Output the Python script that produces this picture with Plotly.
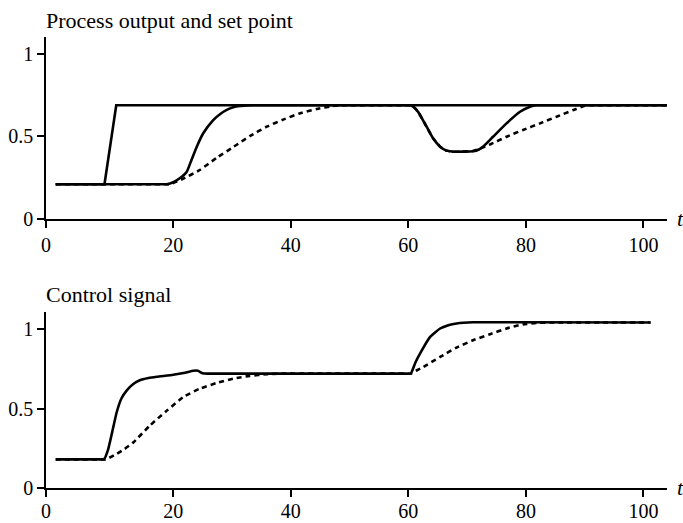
import plotly.graph_objects as go
from plotly.subplots import make_subplots

# ---------------- data ----------------
# top panel: process output and set point
sp_t = [0, 8.3, 10.3, 104]
sp_y = [0.21, 0.21, 0.687, 0.687]

out_fast_t = [0, 18.0, 18.9, 20.0, 21.1, 22.3, 23.1, 24.0, 25.1, 26.8, 28.0, 29.1, 30.2, 31.3,
              32.5, 33.5, 34.5, 59.3, 60.3, 61.0, 61.7, 63.1, 64.2, 65.4, 66.5, 67.6, 69.0,
              71.0, 72.0, 72.7, 74.4, 76.7, 79.0, 80.7, 81.8, 82.8, 104]
out_fast_y = [0.21, 0.21, 0.21, 0.222, 0.246, 0.286, 0.357, 0.437, 0.518, 0.598, 0.635, 0.659,
              0.675, 0.683, 0.686, 0.687, 0.687, 0.687, 0.687, 0.674, 0.645, 0.558, 0.488,
              0.437, 0.413, 0.407, 0.407, 0.409, 0.42, 0.437, 0.497, 0.578, 0.648, 0.679,
              0.687, 0.687, 0.687]

out_slow_t = [0, 18.5, 19.4, 21.5, 24.5, 27.4, 30.3, 33.1, 35.9, 38.8, 41.6, 44.4, 47.2, 48.5,
              49.5, 59.3, 60.3, 61.0, 61.7, 63.1, 64.2, 65.4, 66.5, 67.6, 69.0, 71.0, 72.5,
              74.0, 76.7, 79.5, 82.4, 85.2, 88.1, 90.0, 91.0, 104]
out_slow_y = [0.21, 0.21, 0.21, 0.24, 0.296, 0.37, 0.437, 0.502, 0.558, 0.602, 0.639, 0.665,
              0.683, 0.687, 0.687, 0.687, 0.687, 0.674, 0.645, 0.558, 0.488, 0.437, 0.413,
              0.407, 0.407, 0.411, 0.43, 0.452, 0.497, 0.538, 0.578, 0.618, 0.659, 0.685,
              0.687, 0.687]

# bottom panel: control signal
u_fast_t = [0, 7.5, 8.2, 8.9, 9.6, 10.4, 11.2, 12.1, 13.2, 14.3, 15.8, 17.2, 20.0, 22.0, 23.4,
            24.2, 25.0, 26.0, 27.0, 59.6, 60.4, 61.2, 62.0, 63.7, 65.4, 66.8, 68.2, 71.0,
            74.0, 101.2]
u_fast_y = [0.18, 0.18, 0.18, 0.24, 0.35, 0.48, 0.565, 0.615, 0.655, 0.678, 0.692, 0.70, 0.713,
            0.726, 0.738, 0.738, 0.722, 0.72, 0.72, 0.72, 0.72, 0.79, 0.847, 0.951, 1.004,
            1.025, 1.036, 1.043, 1.043, 1.042]

u_slow_t = [0, 7.8, 8.5, 9.9, 11.5, 13.2, 16.0, 18.9, 21.7, 24.5, 27.3, 30.2, 33.0, 35.9,
            38.0, 39.0, 59.6, 60.4, 61.3, 62.5, 65.4, 68.2, 71.0, 73.9, 76.7, 79.5, 82.4,
            84.5, 86.0, 101.2]
u_slow_y = [0.18, 0.18, 0.18, 0.205, 0.24, 0.287, 0.392, 0.487, 0.572, 0.625, 0.66, 0.688,
            0.706, 0.716, 0.72, 0.72, 0.72, 0.72, 0.738, 0.761, 0.825, 0.884, 0.93, 0.968,
            1.004, 1.03, 1.04, 1.042, 1.042, 1.042]

x_axis_start = -1.65
x_axis_end = 104
x_tickvals = [x_axis_start, 20, 40, 60, 80, 100]
x_ticktext = ["0", "20", "40", "60", "80", "100"]
y_tickvals = [0, 0.5, 1]
y_ticktext = ["0", "0.5", "1"]

titles = ["Process output and set point", "Control signal"]

# ---------------- figure ----------------
FONT = "Liberation Serif"
fig = make_subplots(rows=2, cols=1)

solid = dict(color="black", width=2.6)
dashed = dict(color="black", width=2.6, dash="5px,4px")
SM = 0.5

fig.add_trace(go.Scatter(x=out_slow_t, y=out_slow_y, mode="lines",
                         line=dict(**dashed, shape="spline", smoothing=SM)), row=1, col=1)
fig.add_trace(go.Scatter(x=sp_t, y=sp_y, mode="lines", line=solid), row=1, col=1)
fig.add_trace(go.Scatter(x=out_fast_t, y=out_fast_y, mode="lines",
                         line=dict(**solid, shape="spline", smoothing=SM)), row=1, col=1)

fig.add_trace(go.Scatter(x=u_slow_t, y=u_slow_y, mode="lines",
                         line=dict(**dashed, shape="spline", smoothing=SM)), row=2, col=1)
fig.add_trace(go.Scatter(x=u_fast_t, y=u_fast_y, mode="lines",
                         line=dict(**solid, shape="spline", smoothing=SM)), row=2, col=1)

axis_common = dict(showline=True, linecolor="black", linewidth=1.5, ticks="outside",
                   ticklen=7, tickwidth=1.5, tickcolor="black", showgrid=False,
                   zeroline=False, automargin=False,
                   tickfont=dict(family=FONT, size=20, color="black"))

top_dom = [0.5965, 1.0]
bot_dom = [0.0, 0.391]

fig.update_xaxes(**axis_common, range=[x_axis_start, x_axis_end], tickvals=x_tickvals,
                 ticktext=x_ticktext, domain=[0, 1])
fig.update_xaxes(ticklabelstandoff=-3, row=2, col=1)
fig.update_yaxes(**axis_common, tickvals=y_tickvals, ticktext=y_ticktext)
fig.update_yaxes(range=[0, 1.1], domain=top_dom, row=1, col=1)
fig.update_yaxes(range=[0, 1.11], domain=bot_dom, row=2, col=1)

ann = []
ann.append(dict(text=titles[0], x=-0.004, xref="paper", y=top_dom[1], yref="paper",
                xanchor="left", yanchor="middle", yshift=16.6, showarrow=False,
                font=dict(family=FONT, size=22, color="black")))
ann.append(dict(text=titles[1], x=-0.004, xref="paper", y=bot_dom[1], yref="paper",
                xanchor="left", yanchor="middle", yshift=17.5, showarrow=False,
                font=dict(family=FONT, size=22, color="black")))
for yr in ["y", "y2"]:
    ann.append(dict(text="<i>t</i>", x=1.021, xref="paper", y=0, yref=yr,
                    xanchor="center", yanchor="middle", showarrow=False,
                    font=dict(family=FONT, size=22, color="black")))

fig.update_layout(width=683, height=523, margin=dict(l=46, r=16, t=37, b=35),
                  paper_bgcolor="white", plot_bgcolor="white", showlegend=False,
                  annotations=ann)

fig.write_html("out.html", config={"displayModeBar": False},
               post_script="document.body.style.margin='0px';document.body.style.overflow='hidden';")
